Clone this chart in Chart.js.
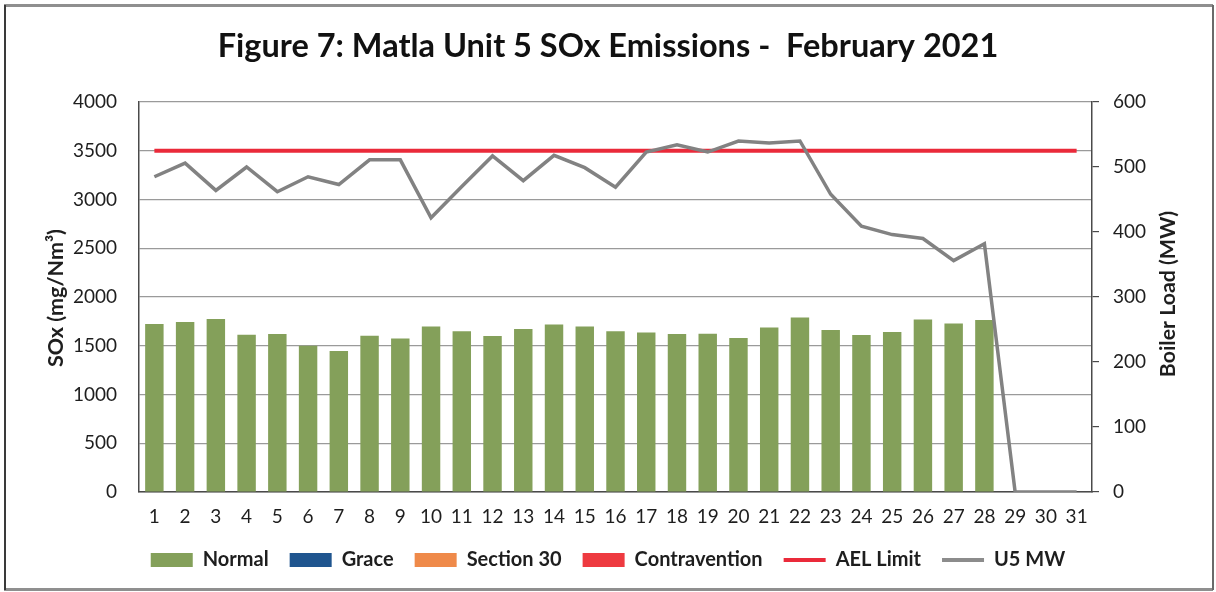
<!DOCTYPE html>
<html>
<head>
<meta charset="utf-8">
<script src="https://cdn.jsdelivr.net/npm/chart.js@4.4.1/dist/chart.umd.min.js"></script>
<style>
  html, body { margin: 0; padding: 0; background: #ffffff; }
  #wrap { position: relative; width: 1216px; height: 592px; }
  canvas { display: block; }
</style>
</head>
<body>
<div id="wrap"><canvas id="c" width="1216" height="592"></canvas></div>
<script>
// ---- data ----
const days = ["1","2","3","4","5","6","7","8","9","10","11","12","13","14","15","16","17","18","19","20","21","22","23","24","25","26","27","28","29","30","31"];
const normalSOx = [1722,1743,1774,1613,1620,1500,1445,1603,1575,1698,1650,1599,1671,1719,1698,1650,1637,1620,1623,1579,1688,1791,1661,1610,1640,1770,1729,1763,null,null,null];
const graceSOx = [];
const section30SOx = [];
const contraventionSOx = [];
const aelLimit = [3500,3500,3500,3500,3500,3500,3500,3500,3500,3500,3500,3500,3500,3500,3500,3500,3500,3500,3500,3500,3500,3500,3500,3500,3500,3500,3500,3500,3500,3500,3500];
const u5MW = [485,506,464,500,462,485,473,511,511,422,470,517,479,518,499,469,523,534,523,540,537,540,458,409,396,390,356,382,0,0,0];
const leftTicks = [0,500,1000,1500,2000,2500,3000,3500,4000];
const rightTicks = [0,100,200,300,400,500,600];
const leftTitle = 'SOx (mg/Nm³)';
const rightTitle = 'Boiler Load (MW)';

const FONT = "Lato, 'Open Sans', 'DejaVu Sans', sans-serif";
const TEXT = '#1e1e1e';

function fittedFont(ctx, text, targetLen, minSize, maxSize) {
  ctx.font = "bold 20px " + FONT;
  const w = ctx.measureText(text).width || 1;
  const size = Math.max(minSize, Math.min(maxSize, 20 * targetLen / w));
  return "bold " + size.toFixed(1) + "px " + FONT;
}

const framePlugin = {
  id: 'frame',
  beforeDraw(chart) {
    const ctx = chart.ctx;
    ctx.save();
    ctx.fillStyle = '#ffffff';
    ctx.fillRect(0, 0, chart.width, chart.height);
    ctx.restore();
  },
  afterDraw(chart) {
    const ctx = chart.ctx;
    ctx.save();
    // axis titles (both read bottom-to-top, as in the reference)
    ctx.fillStyle = TEXT;
    ctx.textAlign = 'center';
    ctx.textBaseline = 'middle';
    ctx.save();
    ctx.font = fittedFont(ctx, leftTitle, 138, 16, 24);
    ctx.translate(56, 298);
    ctx.rotate(-Math.PI / 2);
    ctx.fillText(leftTitle, 0, 0);
    ctx.restore();
    ctx.save();
    ctx.font = fittedFont(ctx, rightTitle, 166, 16, 24);
    ctx.translate(1168, 294);
    ctx.rotate(-Math.PI / 2);
    ctx.fillText(rightTitle, 0, 0);
    ctx.restore();
    // outer frame
    ctx.strokeStyle = '#8f8f8f';
    ctx.lineWidth = 3;
    ctx.beginPath(); ctx.moveTo(4, 5.5); ctx.lineTo(1213, 5.5); ctx.stroke();
    ctx.beginPath(); ctx.moveTo(4, 589.5); ctx.lineTo(1213, 589.5); ctx.stroke();
    ctx.strokeStyle = '#3a3a3a';
    ctx.lineWidth = 2;
    ctx.beginPath(); ctx.moveTo(5, 5); ctx.lineTo(5, 590); ctx.stroke();
    ctx.strokeStyle = '#6a6a6a';
    ctx.beginPath(); ctx.moveTo(1213, 5); ctx.lineTo(1213, 590); ctx.stroke();
    ctx.restore();
  }
};

new Chart(document.getElementById('c'), {
  type: 'bar',
  data: {
    labels: days,
    datasets: [
      { type: 'bar', label: 'Normal', data: normalSOx, backgroundColor: '#84a05a', legendColor: '#84a05a', yAxisID: 'y', grouped: false, barPercentage: 0.6, categoryPercentage: 1.0, order: 2 },
      { type: 'bar', label: 'Grace', data: graceSOx, backgroundColor: '#1f558f', legendColor: '#1f558f', yAxisID: 'y', grouped: false, barPercentage: 0.6, categoryPercentage: 1.0, order: 2 },
      { type: 'bar', label: 'Section 30', data: section30SOx, backgroundColor: '#ef8a4a', legendColor: '#ef8a4a', yAxisID: 'y', grouped: false, barPercentage: 0.6, categoryPercentage: 1.0, order: 2 },
      { type: 'bar', label: 'Contravention', data: contraventionSOx, backgroundColor: '#ee3a40', legendColor: '#ee3a40', yAxisID: 'y', grouped: false, barPercentage: 0.6, categoryPercentage: 1.0, order: 2 },
      { type: 'line', label: 'AEL Limit', data: aelLimit, borderColor: '#ea2a3a', legendColor: '#ea2a3a', borderWidth: 4, pointRadius: 0, tension: 0, fill: false, yAxisID: 'y', order: 1 },
      { type: 'line', label: 'U5 MW', data: u5MW, borderColor: '#828282', legendColor: '#8c8c8c', borderWidth: 3.5, pointRadius: 0, tension: 0, fill: false, yAxisID: 'y1', order: 0 }
    ]
  },
  plugins: [framePlugin],
  options: {
    responsive: false,
    animation: false,
    events: [],
    layout: { padding: { left: 6, right: 6, top: 0, bottom: 12 } },
    plugins: {
      tooltip: { enabled: false },
      title: {
        display: true,
        text: 'Figure 7: Matla Unit 5 SOx Emissions -  February 2021',
        color: '#111111',
        font: { family: FONT, size: 32.5, weight: 'bold', lineHeight: 1.2 },
        padding: { top: 27.5, bottom: 35.5 }
      },
      legend: {
        display: true,
        position: 'bottom',
        labels: {
          color: TEXT,
          font: { family: FONT, size: 20, weight: 'bold' },
          usePointStyle: true,
          pointStyleWidth: 42,
          boxHeight: 14,
          padding: 21,
          generateLabels(chart) {
            return chart.data.datasets.map((ds, i) => ({
              text: ds.label,
              fillStyle: ds.legendColor,
              strokeStyle: ds.legendColor,
              lineWidth: ds.type === 'line' ? 4 : 0,
              pointStyle: ds.type === 'line' ? 'line' : 'rect',
              hidden: false,
              datasetIndex: i,
              fontColor: TEXT
            }));
          }
        }
      }
    },
    scales: {
      x: {
        type: 'category',
        offset: true,
        grid: { display: false },
        border: { display: true, color: '#4a4a4a', width: 1.5 },
        ticks: { color: TEXT, font: { family: FONT, size: 19 }, padding: 5, maxRotation: 0, autoSkip: false },
        afterFit(scale) { scale.height = 37; }
      },
      y: {
        type: 'linear',
        position: 'left',
        min: 0, max: 4000,
        afterBuildTicks(scale) { scale.ticks = leftTicks.map(v => ({ value: v })); },
        grid: { color: '#9a9a9a', lineWidth: 1.2, drawTicks: false },
        border: { display: true, color: '#4a4a4a', width: 1.5 },
        ticks: { color: TEXT, font: { family: FONT, size: 19 }, padding: 22, callback: v => String(v) },
        title: { display: false },
        afterFit(scale) { scale.width = 133; }
      },
      y1: {
        type: 'linear',
        position: 'right',
        min: 0, max: 600,
        afterBuildTicks(scale) { scale.ticks = rightTicks.map(v => ({ value: v })); },
        grid: { drawOnChartArea: false, drawTicks: true, tickLength: 7, color: '#4a4a4a', lineWidth: 1.2 },
        border: { display: true, color: '#4a4a4a', width: 1.5 },
        ticks: { color: TEXT, font: { family: FONT, size: 19 }, padding: 14, callback: v => String(v) },
        title: { display: false },
        afterFit(scale) { scale.width = 118; }
      }
    }
  }
});
</script>
</body>
</html>
